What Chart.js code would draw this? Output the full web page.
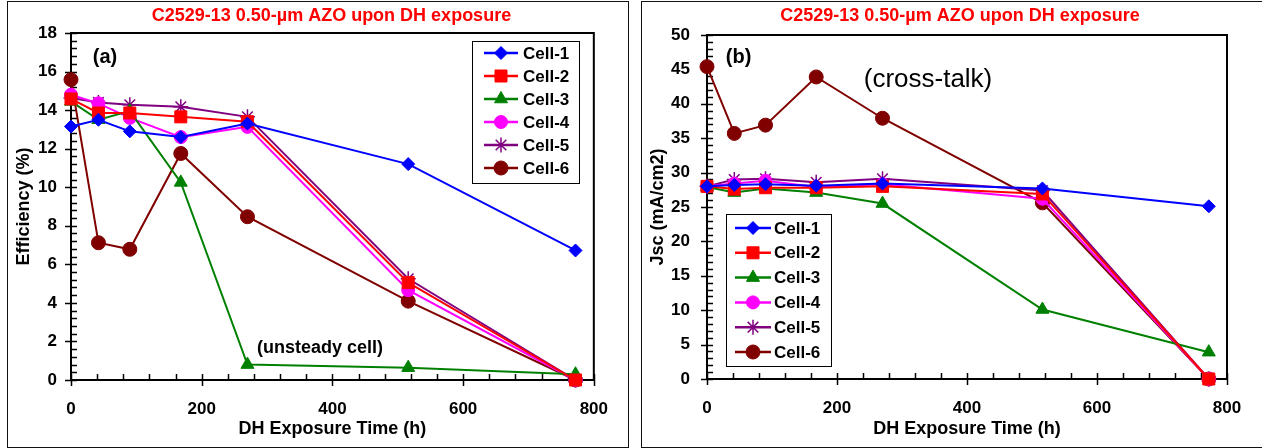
<!DOCTYPE html>
<html>
<head>
<meta charset="utf-8">
<script src="https://cdn.jsdelivr.net/npm/chart.js@4/dist/chart.umd.min.js"></script>
<style>
  html, body { margin: 0; padding: 0; background: #fff; }
  body { width: 1262px; height: 448px; position: relative; overflow: hidden; }
  .panel { position: absolute; border: 1px solid #111; box-sizing: border-box; }
  canvas { position: absolute; }
</style>
</head>
<body>
<div class="panel" style="left:7px; top:1px; width:622px; height:447px;"></div>
<div class="panel" style="left:641px; top:1px; width:623px; height:447px;"></div>
<canvas id="effChart" width="619" height="444" style="left:8px; top:2px;"></canvas>
<canvas id="jscChart" width="619" height="444" style="left:642px; top:2px;"></canvas>
<script>
'use strict';

/* ─── Data ─── */
const hours = [0, 42, 90, 168, 270, 516, 772];
const cellNames = ['Cell-1', 'Cell-2', 'Cell-3', 'Cell-4', 'Cell-5', 'Cell-6'];

// efficiency (%)
const effCell1 = [13.15, 13.5, 12.9, 12.6, 13.3, 11.2, 6.72];
const effCell2 = [14.58, 13.85, 13.85, 13.65, 13.4, 5.05, 0];
const effCell3 = [14.45, 13.5, 13.95, 10.25, 0.8, 0.64, 0.3];
const effCell4 = [14.8, 14.35, 13.6, 12.6, 13.13, 4.66, 0];
const effCell5 = [14.63, 14.4, 14.28, 14.17, 13.65, 5.25, 0];
const effCell6 = [15.58, 7.12, 6.78, 11.75, 8.47, 4.09, 0];

// Jsc (mA/cm2)
const jscCell1 = [28.0, 28.2, 28.3, 28.1, 28.4, 27.7, 25.1];
const jscCell2 = [28.0, 27.6, 27.8, 27.8, 28.0, 26.9, 0];
const jscCell3 = [27.9, 27.1, 27.7, 27.1, 25.5, 10.1, 3.9];
const jscCell4 = [28.0, 28.4, 28.8, 27.9, 28.3, 26.2, 0];
const jscCell5 = [28.0, 29.0, 29.1, 28.6, 29.1, 27.4, 0];
const jscCell6 = [45.4, 35.7, 36.9, 43.9, 37.9, 25.6, 0];

const effTicks = [0, 2, 4, 6, 8, 10, 12, 14, 16, 18];
const jscTicks = [0, 5, 10, 15, 20, 25, 30, 35, 40, 45, 50];
const hourTicks = [0, 200, 400, 600, 800];

const titleText = 'C2529-13 0.50-µm AZO upon DH exposure';

/* ─── Styles ─── */
const FONT = 'Arial, "Liberation Sans", Helvetica, sans-serif';
Chart.defaults.font.family = FONT;
Chart.defaults.color = '#000';

const cellStyles = [
  { color: '#0000FF', pointStyle: 'rectRot',  radius: 6.5 },
  { color: '#FF0000', pointStyle: 'rect',     radius: 8.5 },
  { color: '#008000', pointStyle: 'triangle', radius: 7.5 },
  { color: '#FF00FF', pointStyle: 'circle',   radius: 6.5 },
  { color: '#800080', pointStyle: 'star',     radius: 7.5 },
  { color: '#800000', pointStyle: 'circle',   radius: 7 },
];

function buildDatasets(series) {
  return series.map((vals, i) => {
    const s = cellStyles[i];
    return {
      label: cellNames[i],
      data: hours.map((h, k) => ({ x: h, y: vals[k] })),
      borderColor: s.color,
      backgroundColor: s.color,
      borderWidth: 2,
      pointStyle: s.pointStyle,
      pointRadius: s.radius,
      pointHoverRadius: s.radius,
      pointBackgroundColor: s.color,
      pointBorderColor: s.color,
      pointBorderWidth: s.pointStyle === 'star' ? 1.5 : 1,
      tension: 0,
      clip: false,
    };
  });
}

/* ─── Plot frame plus crossing major / minor tick marks ─── */
const frameTicks = {
  id: 'frameTicks',
  beforeDatasetsDraw(chart, args, o) {
    const { ctx, chartArea: a, scales: { x, y } } = chart;
    ctx.save();
    ctx.strokeStyle = '#000';
    ctx.lineWidth = 2;
    ctx.strokeRect(a.left, a.top, a.right - a.left, a.bottom - a.top);

    ctx.lineWidth = 1.5;
    ctx.beginPath();
    const nx = Math.round((x.max - x.min) / o.xMinor);
    const perX = Math.round(o.xMajor / o.xMinor);
    for (let i = 0; i <= nx; i++) {
      const px = Math.round(x.getPixelForValue(x.min + i * o.xMinor)) + 0.5;
      const major = i % perX === 0;
      ctx.moveTo(px, a.bottom - 6);
      ctx.lineTo(px, a.bottom + (major ? 6 : 1));
    }
    const ny = Math.round((y.max - y.min) / o.yMinor);
    const perY = Math.round(o.yMajor / o.yMinor);
    for (let i = 0; i <= ny; i++) {
      const py = Math.round(y.getPixelForValue(y.min + i * o.yMinor)) + 0.5;
      const major = i % perY === 0;
      ctx.moveTo(a.left - (major ? 6 : 1), py);
      ctx.lineTo(a.left + 6, py);
    }
    ctx.stroke();
    ctx.restore();
  }
};

/* ─── Red chart title, panel labels, notes ─── */
const notes = {
  id: 'notes',
  afterDraw(chart, args, o) {
    const { ctx, chartArea: a, scales: { x, y } } = chart;
    ctx.save();
    ctx.textAlign = 'center';
    ctx.textBaseline = 'middle';
    ctx.fillStyle = '#FF0000';
    ctx.font = 'bold 18px ' + FONT;
    ctx.fillText(titleText, (a.left + a.right) / 2 + o.titleShift, o.titleY);
    ctx.fillStyle = '#000';
    o.items.forEach(n => {
      ctx.font = n.font + ' ' + FONT;
      ctx.fillText(n.text, x.getPixelForValue(n.x), y.getPixelForValue(n.y));
    });
    ctx.restore();
  }
};

/* ─── Boxed legend drawn at a fixed spot inside the plot ─── */
const boxLegend = {
  id: 'boxLegend',
  afterDraw(chart, args, o) {
    const ctx = chart.ctx;
    ctx.save();
    ctx.fillStyle = '#fff';
    ctx.fillRect(o.left, o.top, o.width, o.height);
    ctx.strokeStyle = '#000';
    ctx.lineWidth = 1;
    ctx.strokeRect(o.left + 0.5, o.top + 0.5, o.width, o.height);
    ctx.font = 'bold 17px ' + FONT;
    ctx.textBaseline = 'middle';
    ctx.textAlign = 'left';
    chart.data.datasets.forEach((ds, i) => {
      const ry = o.rowY + i * o.rowGap;
      ctx.strokeStyle = ds.borderColor;
      ctx.fillStyle = ds.borderColor;
      ctx.lineWidth = 2.5;
      ctx.beginPath();
      ctx.moveTo(o.lineX0, ry);
      ctx.lineTo(o.lineX1, ry);
      ctx.stroke();
      ctx.lineWidth = ds.pointBorderWidth;
      Chart.helpers.drawPoint(ctx, {
        pointStyle: ds.pointStyle, radius: ds.pointRadius, rotation: 0, borderWidth: ds.pointBorderWidth
      }, (o.lineX0 + o.lineX1) / 2, ry);
      ctx.fillStyle = '#000';
      ctx.fillText(ds.label, o.textX, ry + 1);
    });
    ctx.restore();
  }
};

function makeChart(id, cfg) {
  return new Chart(document.getElementById(id), {
    type: 'line',
    data: { datasets: buildDatasets(cfg.series) },
    plugins: [frameTicks, notes, boxLegend],
    options: {
      responsive: false,
      animation: false,
      events: [],
      layout: { padding: { top: cfg.padTop, right: cfg.padRight, left: 0, bottom: 0 } },
      scales: {
        x: {
          type: 'linear', min: 0, max: 800,
          afterFit: s => { s.height = cfg.xHeight; },
          afterBuildTicks: s => { s.ticks = hourTicks.map(v => ({ value: v })); },
          grid: { display: false, drawTicks: false },
          border: { display: false },
          ticks: { font: { size: 17, weight: 'bold' }, padding: 19, maxRotation: 0 },
          title: {
            display: true, text: 'DH Exposure Time (h)',
            font: { size: 18, weight: 'bold' }, padding: { top: 0, bottom: 6 }
          }
        },
        y: {
          type: 'linear', min: 0, max: cfg.yMax,
          afterFit: s => { s.width = cfg.yWidth; },
          afterBuildTicks: s => { s.ticks = cfg.yTicks.map(v => ({ value: v })); },
          grid: { display: false, drawTicks: false },
          border: { display: false },
          ticks: { font: { size: 17, weight: 'bold' }, padding: cfg.yPad },
          title: {
            display: true, text: cfg.yTitle,
            font: { size: 18, weight: 'bold' }, padding: { top: 5, bottom: 0 }
          }
        }
      },
      plugins: {
        legend: { display: false },
        tooltip: { enabled: false },
        title: { display: false },
        frameTicks: cfg.tickOpts,
        notes: cfg.notes,
        boxLegend: cfg.legend
      }
    }
  });
}

makeChart('effChart', {
  series: [effCell1, effCell2, effCell3, effCell4, effCell5, effCell6],
  yMax: 18, yTicks: effTicks, yTitle: 'Efficiency (%)',
  padTop: 31, padRight: 33, xHeight: 66, yWidth: 63, yPad: 14,
  tickOpts: { xMajor: 200, xMinor: 40, yMajor: 2, yMinor: 0.4 },
  notes: {
    titleShift: -1, titleY: 14,
    items: [
      { text: '(a)', x: 52, y: 16.75, font: 'bold 20px' },
      { text: '(unsteady cell)', x: 381, y: 1.65, font: 'bold 18px' }
    ]
  },
  legend: { left: 464, top: 39, width: 107, height: 142, lineX0: 476, lineX1: 510, textX: 515, rowY: 51, rowGap: 23 }
});

makeChart('jscChart', {
  series: [jscCell1, jscCell2, jscCell3, jscCell4, jscCell5, jscCell6],
  yMax: 50, yTicks: jscTicks, yTitle: 'Jsc (mA/cm2)',
  padTop: 33, padRight: 34, xHeight: 67, yWidth: 65, yPad: 17,
  tickOpts: { xMajor: 200, xMinor: 40, yMajor: 5, yMinor: 1 },
  notes: {
    titleShift: -7, titleY: 14,
    items: [
      { text: '(b)', x: 48.5, y: 46.8, font: 'bold 20px' },
      { text: '(cross-talk)', x: 340, y: 43.5, font: '26px' }
    ]
  },
  legend: { left: 84, top: 212, width: 105, height: 152, lineX0: 93, lineX1: 129, textX: 132, rowY: 226, rowGap: 24.8 }
});
</script>
</body>
</html>
